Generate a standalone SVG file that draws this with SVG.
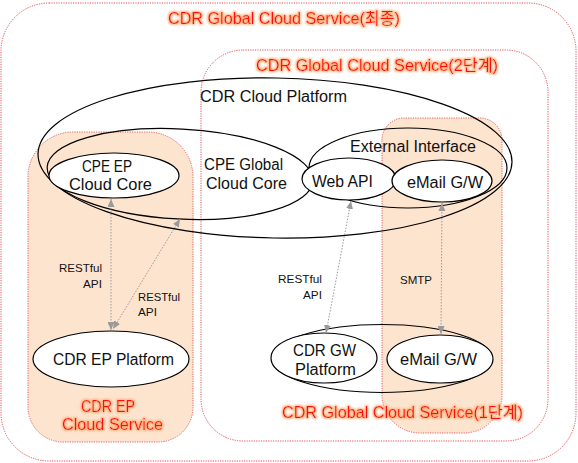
<svg xmlns="http://www.w3.org/2000/svg" width="578" height="463" viewBox="0 0 578 463">
<defs>
<style>
.box{fill:none;stroke:#e05050;stroke-width:1;stroke-dasharray:1.2 1.2}
.org{fill:#fde4cf;stroke:#e06060;stroke-width:1;stroke-dasharray:1.2 1.2}
.el{fill:none;stroke:#000;stroke-width:1.2}
.ew{fill:#fff;stroke:#000;stroke-width:1.2}
.t{font-family:"Liberation Sans","Noto Sans CJK KR",sans-serif;font-size:16px;fill:#111}
.s{font-family:"Liberation Sans","Noto Sans CJK KR",sans-serif;font-size:11.5px;fill:#111}
.r{font-family:"Liberation Sans","Noto Sans CJK KR",sans-serif;font-size:16px;fill:#ff1010}
.c{fill:none;stroke:#9a9a9a;stroke-width:1;stroke-dasharray:1.5 1.5;marker-start:url(#ah);marker-end:url(#ah)}
</style>
<marker id="ah" viewBox="0 0 8 7" refX="8" refY="3.5" markerWidth="8" markerHeight="7" markerUnits="userSpaceOnUse" orient="auto-start-reverse">
<path d="M0,0 L8,3.5 L0,7 Z" fill="#9a9a9a"/>
</marker>
<filter id="glow" x="-10%" y="-40%" width="120%" height="180%">
<feMorphology in="SourceAlpha" operator="dilate" radius="1" result="d"/>
<feGaussianBlur in="d" stdDeviation="0.9" result="b"/>
<feFlood flood-color="#f7b27e"/>
<feComposite in2="b" operator="in" result="g"/>
<feMerge><feMergeNode in="g"/><feMergeNode in="SourceGraphic"/></feMerge>
</filter>
</defs>
<rect width="578" height="463" fill="#fff"/>

<g id="final-service">
<rect class="box" x="1" y="3" width="575" height="458" rx="48"/>
<text class="r" filter="url(#glow)" x="168" y="24" textLength="232" lengthAdjust="spacingAndGlyphs">CDR Global Cloud Service(최종)</text>
</g>

<g id="stage2-service">
<rect class="box" x="201" y="50" width="347" height="391" rx="42"/>
<text class="r" filter="url(#glow)" x="256" y="70.5" textLength="242" lengthAdjust="spacingAndGlyphs">CDR Global Cloud Service(2단계)</text>
</g>

<g id="ep-cloud-service">
<path class="org" d="M28,177 A45,45 0 0 1 73,132 L148,132 A45,45 0 0 1 193,177 L193,407 A35,35 0 0 1 158,442 L63,442 A35,35 0 0 1 28,407 Z"/>
</g>

<g id="smtp-column">
<path class="org" d="M382,140 A22,22 0 0 1 404,118 L480,118 A22,22 0 0 1 502,140 L502,395 A38,38 0 0 1 464,433 L420,433 A38,38 0 0 1 382,395 Z"/>
</g>

<g id="cdr-cloud-platform">
<ellipse class="el" cx="275" cy="158" rx="237" ry="80" transform="rotate(1 275 158)"/>
<text class="t" x="200" y="102" textLength="147" lengthAdjust="spacingAndGlyphs">CDR Cloud Platform</text>
</g>

<g id="cpe-global-cloud-core">
<ellipse class="el" cx="180" cy="174" rx="133" ry="45" transform="rotate(3 180 174)"/>
<text class="t" x="204" y="170" textLength="79" lengthAdjust="spacingAndGlyphs">CPE Global</text>
<text class="t" x="206" y="189" textLength="81" lengthAdjust="spacingAndGlyphs">Cloud Core</text>
</g>

<g id="external-interface">
<ellipse class="el" cx="408" cy="168" rx="99" ry="40"/>
<text class="t" x="350" y="152" textLength="126" lengthAdjust="spacingAndGlyphs">External Interface</text>
</g>

<g id="gw-group">
<ellipse class="el" cx="382" cy="358.5" rx="110" ry="34"/>
</g>

<g id="cpe-ep-cloud-core">
<ellipse class="ew" cx="114" cy="175.5" rx="65" ry="22.5"/>
<text class="t" x="82" y="172" textLength="50" lengthAdjust="spacingAndGlyphs">CPE EP</text>
<text class="t" x="69" y="190" textLength="83" lengthAdjust="spacingAndGlyphs">Cloud Core</text>
</g>

<g id="web-api">
<ellipse class="ew" cx="349" cy="179" rx="47" ry="21"/>
<text class="t" x="312" y="187" textLength="61" lengthAdjust="spacingAndGlyphs">Web API</text>
</g>

<g id="email-gw-top">
<ellipse class="ew" cx="442" cy="181" rx="50" ry="21"/>
<text class="t" x="407" y="188" textLength="76" lengthAdjust="spacingAndGlyphs">eMail G/W</text>
</g>

<g id="cdr-ep-platform">
<ellipse class="ew" cx="111" cy="359" rx="78" ry="28"/>
<text class="t" x="53" y="365" textLength="121" lengthAdjust="spacingAndGlyphs">CDR EP Platform</text>
</g>

<g id="cdr-gw-platform">
<ellipse class="ew" cx="324" cy="358" rx="53" ry="25"/>
<text class="t" x="293" y="356" textLength="63" lengthAdjust="spacingAndGlyphs">CDR GW</text>
<text class="t" x="295" y="375" textLength="61" lengthAdjust="spacingAndGlyphs">Platform</text>
</g>

<g id="email-gw-bottom">
<ellipse class="ew" cx="440" cy="359" rx="53" ry="24"/>
<text class="t" x="400" y="365" textLength="77" lengthAdjust="spacingAndGlyphs">eMail G/W</text>
</g>

<g id="labels">
<text class="r" filter="url(#glow)" x="81" y="412" textLength="54" lengthAdjust="spacingAndGlyphs">CDR EP</text>
<text class="r" filter="url(#glow)" x="62" y="430" textLength="101" lengthAdjust="spacingAndGlyphs">Cloud Service</text>
<text class="r" filter="url(#glow)" x="282" y="418" textLength="241" lengthAdjust="spacingAndGlyphs">CDR Global Cloud Service(1단계)</text>
</g>

<g id="connectors">
<line class="c" x1="111" y1="199" x2="111" y2="330"/>
<line class="c" x1="180" y1="219" x2="113" y2="329"/>
<line class="c" x1="351" y1="201" x2="326" y2="333"/>
<line class="c" x1="442" y1="203" x2="441" y2="334"/>
<text class="s" x="59" y="272" textLength="43" lengthAdjust="spacingAndGlyphs">RESTful</text>
<text class="s" x="83" y="288" textLength="19" lengthAdjust="spacingAndGlyphs">API</text>
<text class="s" x="138" y="301" textLength="42" lengthAdjust="spacingAndGlyphs">RESTful</text>
<text class="s" x="138" y="316" textLength="19" lengthAdjust="spacingAndGlyphs">API</text>
<text class="s" x="278" y="283" textLength="44" lengthAdjust="spacingAndGlyphs">RESTful</text>
<text class="s" x="303" y="299" textLength="19" lengthAdjust="spacingAndGlyphs">API</text>
<text class="s" x="400" y="284" textLength="32" lengthAdjust="spacingAndGlyphs">SMTP</text>
</g>
</svg>
